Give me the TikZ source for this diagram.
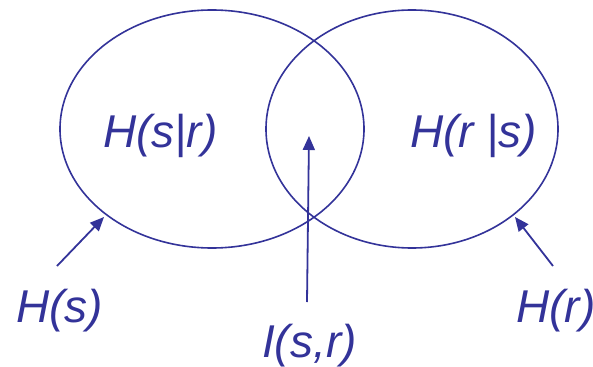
\documentclass[tikz,border=0pt]{standalone}
\usepackage{fontspec}
\setmainfont{Liberation Sans}
\usetikzlibrary{arrows.meta,shapes.geometric}
\definecolor{vblue}{HTML}{333399}
\begin{document}
\begin{tikzpicture}[x=1pt,y=-1pt,
  set/.style={draw=vblue, line width=1.6pt, ellipse, inner sep=0pt, minimum width=304pt, minimum height=238pt},
  lbl/.style={text=vblue, font=\fontsize{46}{50}\selectfont\itshape, inner sep=0pt, anchor=base west},
  pointer/.style={draw=vblue, line width=1.8pt, -{Triangle[length=14pt,width=12pt]}}]
\useasboundingbox (0,0) rectangle (593,366);
\node[set] (L) at (212,129) {};
\node[set, minimum width=292pt] (R) at (412,129) {};
\node[lbl] (hsr) at (103,147) {H(s|r)};
\node[lbl] (hrs) at (410,147) {H(r |s)};
\node[lbl] (hs) at (16,322) {H(s)};
\node[lbl] (hr) at (516,322) {H(r)};
\node[lbl] (isr) at (262,357) {I(s,r)};
\coordinate (hsTail) at (57,266);
\coordinate (hsTip) at (104,217);
\coordinate (hrTail) at (553,266);
\coordinate (hrTip) at (515,217);
\coordinate (isTail) at (307,302);
\coordinate (isTip) at (309,136);
\draw[pointer] (hsTail) -- (hsTip);
\draw[pointer] (hrTail) -- (hrTip);
\draw[pointer] (isTail) -- (isTip);
\end{tikzpicture}
\end{document}
